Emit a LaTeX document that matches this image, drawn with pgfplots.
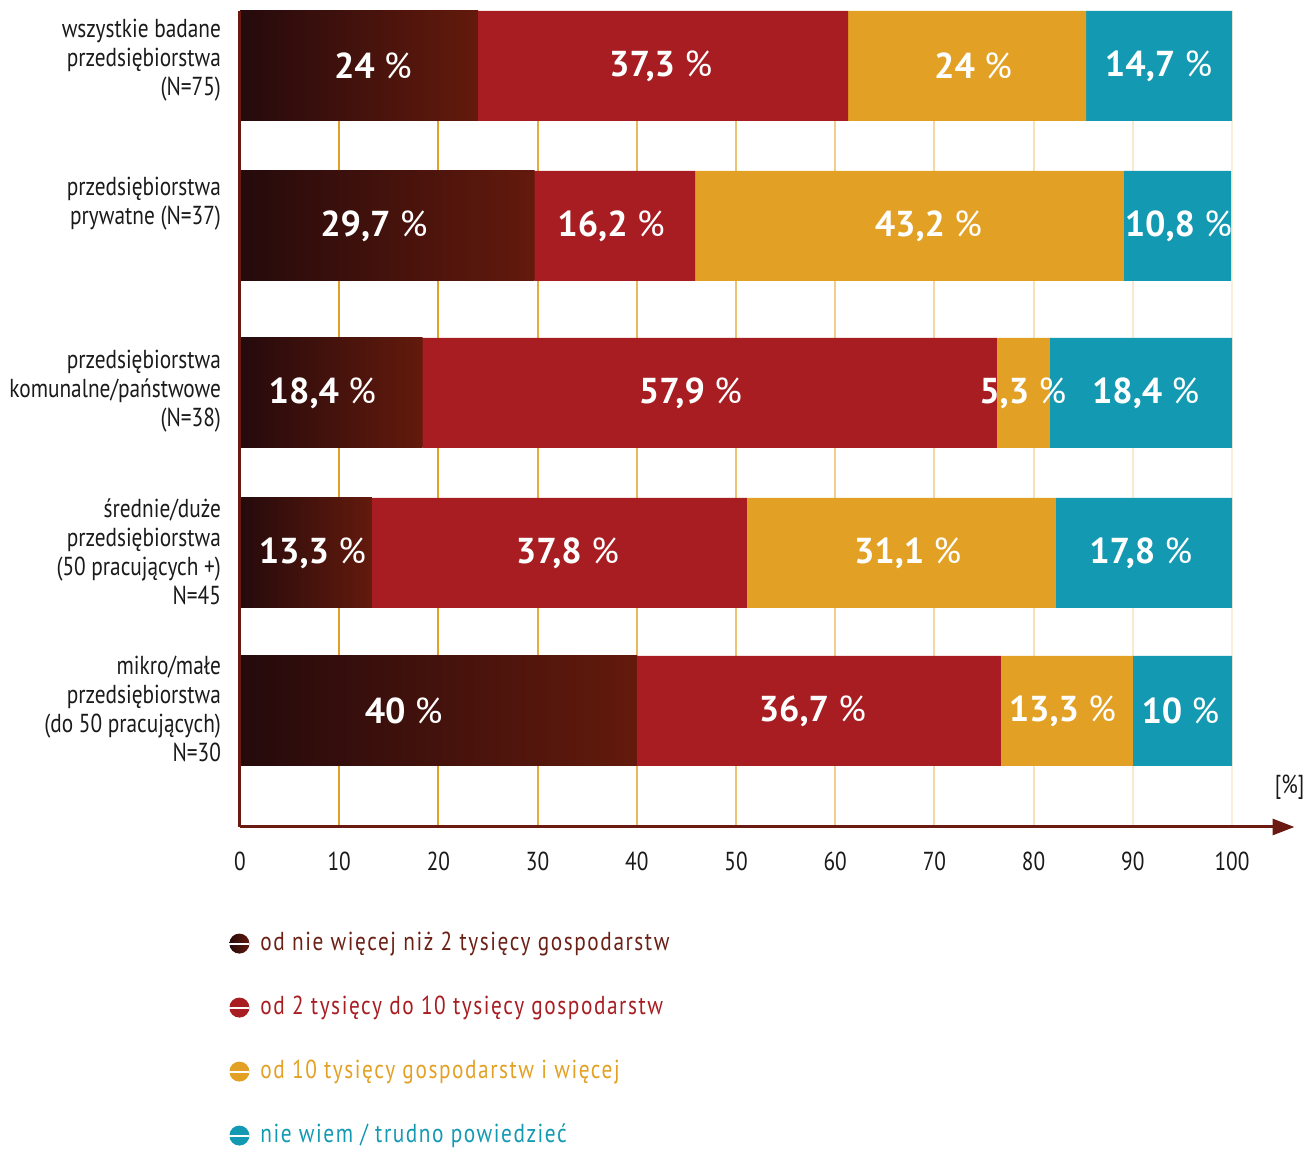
\documentclass[border=0pt]{standalone}
\usepackage{pgfplots}
\usepackage{pgfplotstable}
\pgfplotsset{compat=1.18}
\usepackage{fontspec}
\setmainfont{PT Sans}
\newfontfamily\condf{PT Sans}[FakeStretch=0.82]
\newfontfamily\legf{PT Sans}[FakeStretch=0.82, LetterSpace=6]
\usetikzlibrary{arrows.meta}

\definecolor{gA}{HTML}{250A0C}
\definecolor{gB}{HTML}{631A0C}
\definecolor{cRed}{HTML}{A71D22}
\definecolor{cGold}{HTML}{E2A124}
\definecolor{cTeal}{HTML}{1399B1}
\definecolor{axc}{HTML}{6B1A12}
\definecolor{legBrown}{HTML}{6B2016}
\definecolor{txt}{HTML}{1A1A1A}

\pgfplotstableread{
x y lab
13.4 0.66 24
42.4 0.66 37,3
73.9 0.66 24
92.6 0.66 14,7
13.5 2.26 29,7
37.4 2.26 16,2
69.4 2.26 43,2
94.6 2.26 10,8
8.3 3.93 18,4
45.4 3.93 57,9
78.9 3.93 5,3
91.3 3.93 18,4
7.3 5.53 13,3
33.0 5.53 37,8
67.3 5.53 31,1
90.8 5.53 17,8
16.5 7.11 40
57.7 7.11 36,7
82.9 7.11 13,3
94.8 7.11 10
}\labtab

\pgfplotsset{frame/.style={
  at={(120pt,161pt)}, anchor=south west,
  scale only axis, width=496pt, height=408pt,
  xmin=0, xmax=100, ymin=0.11, ymax=8.27, y dir=reverse,
  clip=false}}

\begin{document}
\begin{tikzpicture}[x=1pt,y=1pt]
\path[use as bounding box] (0,0) rectangle (654,574.5);
% grid lines (background)
\begin{axis}[frame, hide axis]
\foreach \xx/\pc in {10/100,20/100,30/88,40/76,50/64,60/52,70/42,80/32,90/22,100/17} {
  \edef\tmp{\noexpand\draw[line width=1pt, color=cGold!\pc!white] (axis cs:\xx,0.11) -- (axis cs:\xx,8.27);}\tmp
}
\end{axis}
% first segments with individual gradients
\begin{axis}[frame, hide axis, xbar, bar width=1.10, bar shift=0pt]
\addplot[draw=none, left color=gA, right color=gB] coordinates {(24,0.66)};
\addplot[draw=none, left color=gA, right color=gB] coordinates {(29.7,2.26)};
\addplot[draw=none, left color=gA, right color=gB] coordinates {(18.4,3.93)};
\addplot[draw=none, left color=gA, right color=gB] coordinates {(13.3,5.53)};
\addplot[draw=none, left color=gA, right color=gB] coordinates {(40,7.11)};
\end{axis}
% stacked bars
\begin{axis}[frame,
  xbar stacked, bar width=1.10,
  axis line style={draw=none},
  major tick length=0pt,
  xtick={0,10,...,100},
  ytick={0.60,2.035,3.91,5.52,7.085},
  yticklabels={{wszystkie badane\\przedsiębiorstwa\\(N=75)},
               {przedsiębiorstwa\\prywatne (N=37)},
               {przedsiębiorstwa\\komunalne/państwowe\\(N=38)},
               {średnie/duże\\przedsiębiorstwa\\(50 pracujących +)\\N=45},
               {mikro/małe\\przedsiębiorstwa\\(do 50 pracujących)\\N=30}},
  yticklabel style={align=right, font=\condf\fontsize{13}{14.5}\selectfont, text=txt, xshift=-6pt},
  xticklabel style={font=\condf\fontsize{13}{15}\selectfont, text=txt, yshift=-9pt},
  /pgf/number format/assume math mode=true,
  legend cell align=left,
  legend style={at={(-0.0121,-0.124)}, anchor=north west, draw=none, fill=none,
    inner sep=0pt, row sep=17pt,
    font=\legf\fontsize{13}{15}\selectfont,
    nodes={inner sep=1pt, text height=10pt, text depth=3pt},
    /tikz/every odd column/.append style={column sep=4pt}},
]
\addplot[draw=none, fill=none,
  legend image code/.code={\shade[left color=gA, right color=gB] (5pt,0pt) circle (5pt); \draw[white, line width=1pt] (0pt,0pt) -- (10pt,0pt);}]
  coordinates {(24,0.66) (29.7,2.26) (18.4,3.93) (13.3,5.53) (40,7.11)};
\addplot[draw=none, fill=cRed,
  legend image code/.code={\fill[cRed] (5pt,0pt) circle (5pt); \draw[white, line width=1pt] (0pt,0pt) -- (10pt,0pt);}]
  coordinates {(37.3,0.66) (16.2,2.26) (57.9,3.93) (37.8,5.53) (36.7,7.11)};
\addplot[draw=none, fill=cGold,
  legend image code/.code={\fill[cGold] (5pt,0pt) circle (5pt); \draw[white, line width=1pt] (0pt,0pt) -- (10pt,0pt);}]
  coordinates {(24,0.66) (43.2,2.26) (5.3,3.93) (31.1,5.53) (13.3,7.11)};
\addplot[draw=none, fill=cTeal,
  legend image code/.code={\fill[cTeal] (5pt,0pt) circle (5pt); \draw[white, line width=1pt] (0pt,0pt) -- (10pt,0pt);}]
  coordinates {(14.7,0.66) (10.8,2.26) (18.4,3.93) (17.8,5.53) (10,7.11)};
\legend{\textcolor{legBrown}{od nie więcej niż 2 tysięcy gospodarstw},
        \textcolor{cRed}{od 2 tysięcy do 10 tysięcy gospodarstw},
        \textcolor{cGold}{od 10 tysięcy gospodarstw i więcej},
        \textcolor{cTeal}{nie wiem / trudno powiedzieć}}
\draw[axc, line width=1.5pt] (axis cs:0,0.11) -- (axis cs:0,8.27);
\draw[axc, line width=1.5pt, -{Triangle[length=11pt,width=8pt]}] (axis cs:0,8.27) -- (axis cs:106.3,8.27);
\node[font=\condf\fontsize{13}{15}\selectfont, text=txt] at (axis cs:105.8,7.87) {[\%]};
\end{axis}
% value labels
\begin{axis}[frame, hide axis]
\addplot[only marks, mark=*, mark size=0pt, point meta=explicit symbolic,
  nodes near coords={\bfseries\pgfplotspointmeta\ \mdseries\%},
  nodes near coords align={center},
  every node near coord/.append style={text=white, font=\fontsize{18}{20}\selectfont, anchor=center}]
  table[x=x, y=y, meta=lab] {\labtab};
\end{axis}
\end{tikzpicture}
\end{document}
